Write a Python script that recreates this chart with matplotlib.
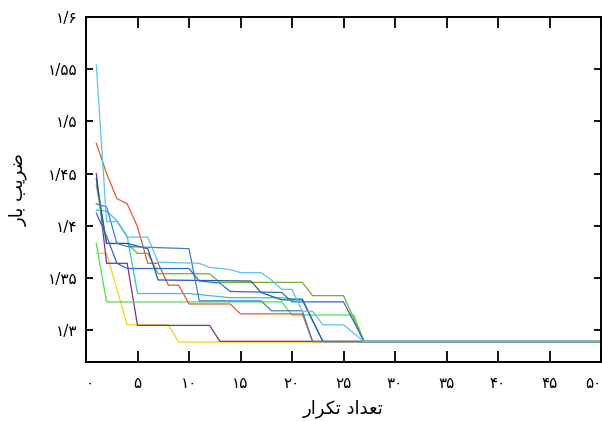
import matplotlib
matplotlib.use("Agg")
import matplotlib.pyplot as plt

plt.rcParams['font.family'] = ['DejaVu Sans']

# ---- data ----
x_ticks = [0, 5, 10, 15, 20, 25, 30, 35, 40, 45, 50]
x_tick_labels = ["۰", "۵", "۱۰", "۱۵", "۲۰", "۲۵", "۳۰", "۳۵", "۴۰", "۴۵", "۵۰"]
y_ticks = [1.30, 1.35, 1.40, 1.45, 1.50, 1.55, 1.60]
y_tick_labels = ["۱/۳", "۱/۳۵", "۱/۴", "۱/۴۵", "۱/۵", "۱/۵۵", "۱/۶"]

# labels, pre-shaped (Arabic presentation forms, visual order)
x_label = "\uFEAD\uFE8D\uFEAE\uFB91\uFE97 \uFEA9\uFE8D\uFEAA\uFECC\uFE97"   # تعداد تکرار
y_label = "\uFEAD\uFE8E\uFE91 \uFE90\uFBFE\uFEAE\uFEBF"                    # ضریب بار

cyan_x = [1, 2, 3, 4, 6, 7, 11, 12, 14, 15, 17, 18, 19, 20, 21, 22, 23, 25, 27, 50]
cyan_y = [1.554, 1.404, 1.404, 1.389, 1.389, 1.365, 1.364, 1.360, 1.358, 1.355, 1.355,
          1.348, 1.339, 1.339, 1.318, 1.318, 1.305, 1.305, 1.289, 1.289]

teal_x = [1, 2, 3, 4, 5, 10, 14, 19, 20, 21, 23, 50]
teal_y = [1.415, 1.414, 1.405, 1.390, 1.335, 1.335, 1.331, 1.331, 1.330, 1.330, 1.289, 1.289]

red_x = [1, 2, 3, 4, 5, 6, 7, 8, 9, 10, 14, 15, 21, 22, 50]
red_y = [1.479, 1.450, 1.426, 1.421, 1.399, 1.364, 1.364, 1.343, 1.343, 1.325, 1.325,
         1.3155, 1.3155, 1.289, 1.289]

purple_x = [1, 2, 4, 5, 12, 13, 50]
purple_y = [1.450, 1.364, 1.364, 1.3045, 1.3045, 1.2892, 1.2892]

yellow_x = [1, 2, 4, 8, 9, 50]
yellow_y = [1.3735, 1.3735, 1.305, 1.305, 1.2885, 1.2885]

green_x = [1, 2, 19, 20, 26, 27, 50]
green_y = [1.383, 1.327, 1.327, 1.3144, 1.3144, 1.289, 1.289]

olive_x = [1, 2, 4, 5, 6, 7, 12, 13, 21, 22, 25, 27, 50]
olive_y = [1.439, 1.383, 1.383, 1.3735, 1.3735, 1.354, 1.354, 1.3457, 1.3457, 1.333,
           1.333, 1.289, 1.289]

navy_x = [1, 2, 4, 6, 7, 16, 17, 19, 21, 23, 50]
navy_y = [1.445, 1.383, 1.383, 1.378, 1.348, 1.347, 1.336, 1.329, 1.329, 1.289, 1.289]

steel_x = [1, 2, 3, 4, 10, 11, 17, 18, 21, 22, 50]
steel_y = [1.421, 1.418, 1.383, 1.380, 1.378, 1.328, 1.328, 1.3185, 1.3185, 1.289, 1.289]

blue_x = [1, 2, 3, 4, 10, 11, 13, 14, 19, 20, 25, 27, 50]
blue_y = [1.412, 1.390, 1.364, 1.359, 1.359, 1.347, 1.345, 1.337, 1.336, 1.327, 1.327,
          1.289, 1.289]

series = [
    (yellow_x, yellow_y, "#F5D21A"),
    (purple_x, purple_y, "#7E2F8E"),
    (green_x, green_y, "#4FE04F"),
    (red_x, red_y, "#DE5A36"),
    (olive_x, olive_y, "#77AC30"),
    (teal_x, teal_y, "#35C5C8"),
    (navy_x, navy_y, "#1F5AA8"),
    (steel_x, steel_y, "#3C7FCB"),
    (blue_x, blue_y, "#2E6DC0"),
    (cyan_x, cyan_y, "#5BC3EA"),
]

fig = plt.figure(figsize=(6.02, 4.21), dpi=100)
ax = fig.add_axes([86 / 602, 59 / 421, 515 / 602, 345 / 421])

for xs, ys, c in series:
    ax.plot(xs, ys, color=c, lw=0.9)

ax.set_xlim(0, 50)
ax.set_ylim(1.2694, 1.6)

ax.set_xticks(x_ticks)
ax.set_xticklabels(x_tick_labels, fontsize=11)
ax.set_yticks(y_ticks)
ax.set_yticklabels(y_tick_labels, fontsize=11)
lbls = ax.get_xticklabels()
lbls[-1].set_horizontalalignment('right')
lbls[0].set_horizontalalignment('left')

ax.tick_params(axis='x', direction='in', length=8, width=1.3, top=True, pad=10)
ax.tick_params(axis='y', direction='in', length=5, width=1.3, right=True, pad=6)
for s in ax.spines.values():
    s.set_linewidth(1.4)

ax.set_xlabel(x_label, fontsize=13)
ax.xaxis.set_label_coords(0.5, -47 / 345)
ax.xaxis.label.set_verticalalignment('center')
ax.set_ylabel(y_label, fontsize=13)
ax.yaxis.set_label_coords(-68 / 515, 0.5)
ax.yaxis.label.set_verticalalignment('center')

fig.savefig("out.png", dpi=100)
